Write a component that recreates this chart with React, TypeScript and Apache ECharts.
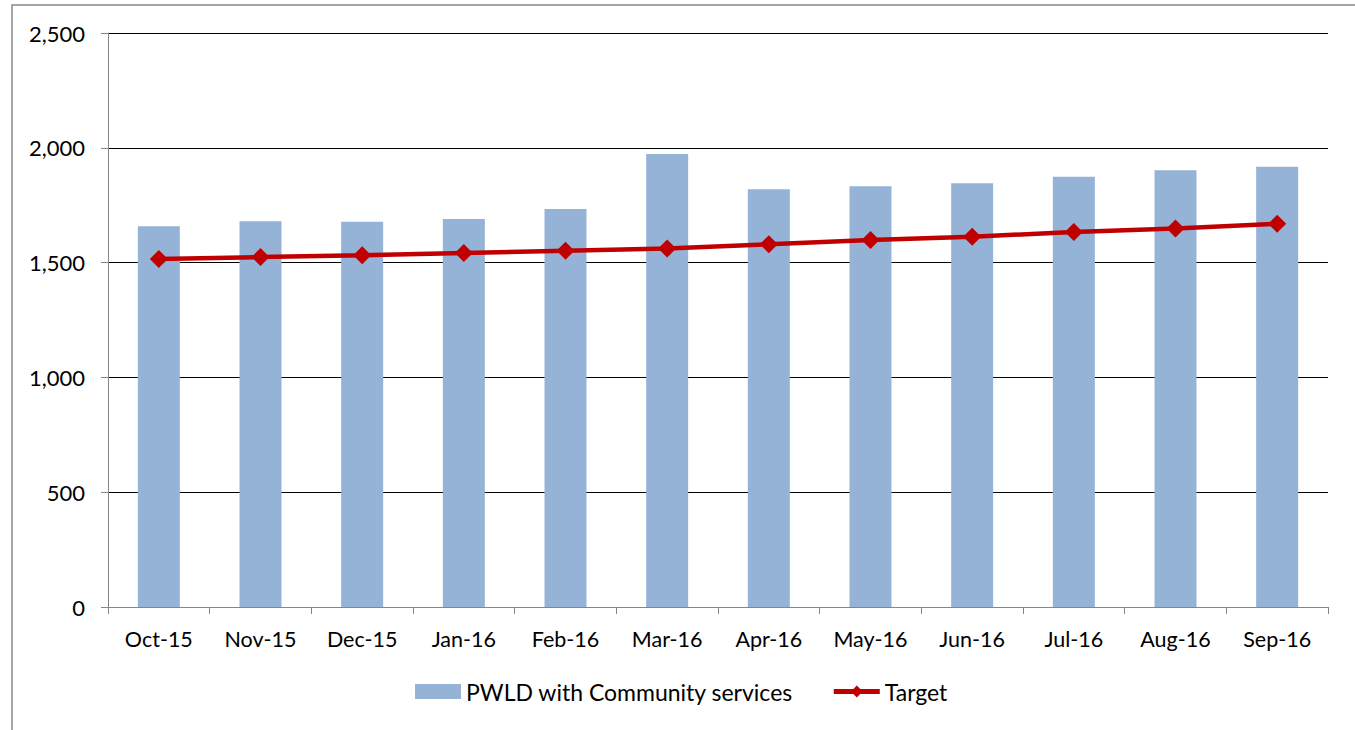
import React, { useEffect, useRef } from "react";
import * as echarts from "echarts";

const categories = ["Oct-15", "Nov-15", "Dec-15", "Jan-16", "Feb-16", "Mar-16", "Apr-16", "May-16", "Jun-16", "Jul-16", "Aug-16", "Sep-16"];
const pwldValues = [1658, 1680, 1678, 1690, 1733, 1973, 1819, 1832, 1846, 1874, 1902, 1918];
const targetValues = [1516, 1524, 1532, 1542, 1552, 1561, 1580, 1598, 1613, 1633, 1649, 1669];

const FONT = "Lato";

export default function App() {
  const ref = useRef<HTMLDivElement>(null);
  useEffect(() => {
    const chart = echarts.init(ref.current!, null, { renderer: "svg" });
    chart.setOption({
      animation: false,
      backgroundColor: "#ffffff",
      textStyle: { fontFamily: FONT },
      graphic: [
        {
          type: "rect",
          shape: { x: 12, y: 5, width: 1400, height: 800 },
          style: { fill: "none", stroke: "#888888", lineWidth: 1.5 },
          silent: true,
        },
      ],
      grid: { left: 108, right: 27, top: 33, bottom: 123, containLabel: false },
      legend: {
        left: 410,
        top: 675,
        itemGap: 38,
        itemWidth: 46,
        itemHeight: 15,
        lineStyle: { width: 5 },
        textStyle: { fontFamily: FONT, fontSize: 23, color: "#000" },
        data: [
          { name: "PWLD with Community services", icon: "rect" },
          { name: "Target" },
        ],
      },
      xAxis: {
        type: "category",
        data: categories,
        axisLine: { show: true, lineStyle: { color: "#868686", width: 1 } },
        axisTick: { show: true, length: 7, lineStyle: { color: "#868686" } },
        axisLabel: { fontFamily: FONT, fontSize: 21.5, color: "#000", margin: 21 },
      },
      yAxis: {
        type: "value",
        min: 0,
        max: 2500,
        interval: 500,
        axisLine: { show: true, lineStyle: { color: "#868686", width: 1 } },
        axisTick: { show: true, length: 7, lineStyle: { color: "#868686" } },
        axisLabel: {
          fontFamily: FONT,
          fontSize: 22,
          color: "#000",
          margin: 23,
          formatter: (v: number) => v.toLocaleString("en-US"),
        },
        splitLine: { show: true, lineStyle: { color: "#000", width: 1 } },
      },
      series: [
        {
          name: "PWLD with Community services",
          type: "bar",
          data: pwldValues,
          barWidth: 42,
          itemStyle: { color: "#95B3D7" },
        },
        {
          name: "Target",
          type: "line",
          data: targetValues,
          symbol: "diamond",
          symbolSize: 18,
          lineStyle: { color: "#C00000", width: 4.5 },
          itemStyle: { color: "#C00000" },
          z: 3,
        },
      ],
    });
    return () => chart.dispose();
  }, []);
  return <div ref={ref} style={{ position: "fixed", left: 0, top: 0, width: 1355, height: 730 }} />;
}
